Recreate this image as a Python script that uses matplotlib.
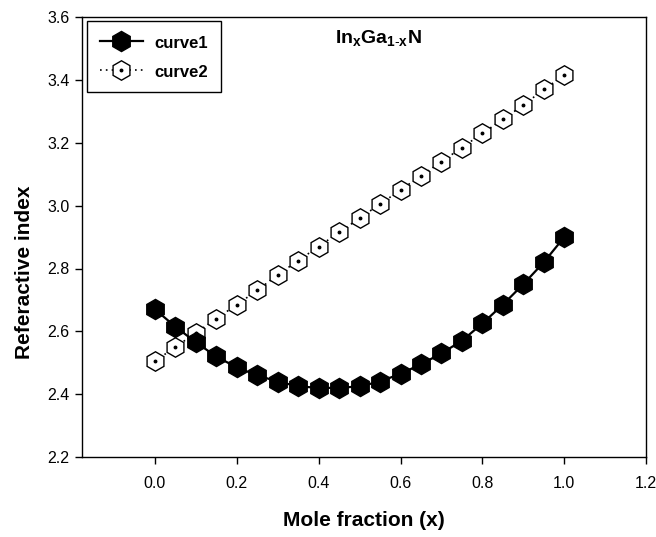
import matplotlib
matplotlib.use("Agg")
import matplotlib.pyplot as plt
import numpy as np

# -------------------------------------------------
# Data
# -------------------------------------------------

mole_fraction = [0.00, 0.05, 0.10, 0.15, 0.20, 0.25, 0.30, 0.35, 0.40, 0.45, 0.50,
                 0.55, 0.60, 0.65, 0.70, 0.75, 0.80, 0.85, 0.90, 0.95, 1.00]

curve1 = [2.670, 2.615, 2.565, 2.520, 2.485, 2.460, 2.440, 2.425, 2.420, 2.420, 2.425,
          2.440, 2.465, 2.495, 2.530, 2.570, 2.625, 2.685, 2.750, 2.820, 2.900]

curve2 = [2.505, 2.550, 2.595, 2.640, 2.685, 2.730, 2.780, 2.825, 2.870, 2.915, 2.960,
          3.005, 3.050, 3.095, 3.140, 3.185, 3.230, 3.275, 3.320, 3.370, 3.415]

x_ticks = [0.0, 0.2, 0.4, 0.6, 0.8, 1.0, 1.2]
y_ticks = [2.2, 2.4, 2.6, 2.8, 3.0, 3.2, 3.4, 3.6]

# -------------------------------------------------
# Style
# -------------------------------------------------

plt.rcParams["font.family"] = ["Liberation Sans", "DejaVu Sans"]
plt.rcParams["mathtext.fontset"] = "custom"
plt.rcParams["mathtext.rm"] = "Liberation Sans"
plt.rcParams["mathtext.bf"] = "Liberation Sans:bold"

fig = plt.figure(figsize=(6.56, 5.37), dpi=100)
ax = fig.add_axes([0.125, 0.149, 0.860, 0.819])

# -------------------------------------------------
# Curves
# -------------------------------------------------

l1, = ax.plot(mole_fraction, curve1, color="black", lw=1.6, marker="h",
              markersize=14.5, markerfacecolor="black", markeredgecolor="black",
              zorder=3)

l2, = ax.plot(mole_fraction, curve2, color="black", lw=1.2, ls=(0, (1, 2.5)),
              marker="h", markersize=14, markerfacecolor="white",
              markeredgecolor="black", markeredgewidth=1.0, zorder=2)
d2, = ax.plot(mole_fraction, curve2, ls="none", marker="o", markersize=1.8,
              color="black", zorder=2.5)

leg = ax.legend([l1, (l2, d2)], ["curve1", "curve2"], loc="upper left",
                bbox_to_anchor=(0.009, 0.991), borderaxespad=0, frameon=True,
                fancybox=False, edgecolor="black", framealpha=1, borderpad=0.75,
                handlelength=2.6, handleheight=1.2, handletextpad=0.7,
                labelspacing=0.7, prop={"weight": "bold", "size": 12})
leg.get_frame().set_linewidth(1.0)

ax.text(0.525, 0.952, r"$\mathbf{In_{x}Ga_{1\text{-}x}N}$", transform=ax.transAxes,
        ha="center", va="center", fontsize=14)

# -------------------------------------------------
# Axes
# -------------------------------------------------

ax.set_xlim(-0.178, 1.2)
ax.set_ylim(2.2, 3.6)
ax.set_xticks(x_ticks)
ax.set_yticks(y_ticks)
ax.set_xticklabels([f"{t:.1f}" for t in x_ticks])
ax.set_yticklabels([f"{t:.1f}" for t in y_ticks])
ax.tick_params(direction="out", length=5, width=1, labelsize=11.5)
ax.tick_params(axis="x", pad=9)
ax.tick_params(axis="y", pad=4)

for s in ax.spines.values():
    s.set_linewidth(1.0)

ax.set_xlabel("Mole fraction (x)", fontsize=15, fontweight="bold", labelpad=14)
ax.set_ylabel("Referactive index", fontsize=15, fontweight="bold")
ax.yaxis.set_label_coords(-0.085, 0.42)

fig.savefig("out.png", dpi=100)
